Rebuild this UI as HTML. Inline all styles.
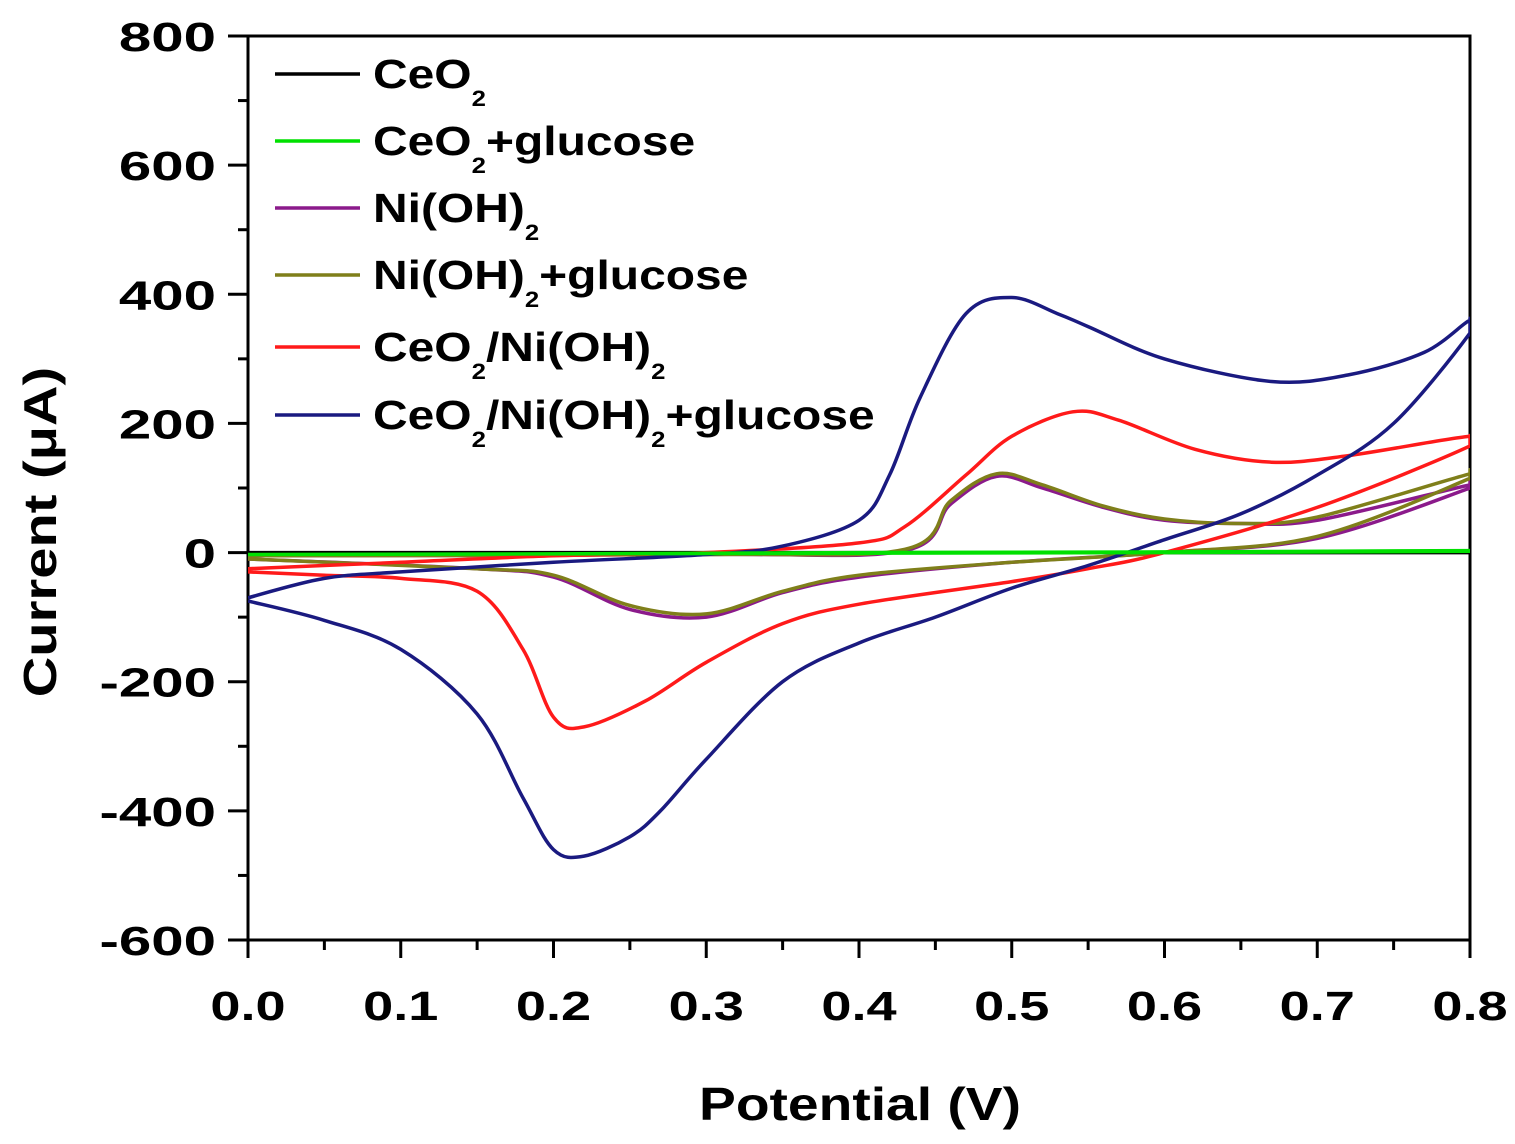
<!DOCTYPE html>
<html><head><meta charset="utf-8"><style>
html,body{margin:0;padding:0;background:#fff;}
svg{display:block;font-family:"Liberation Sans",Arial,sans-serif;font-weight:bold;}
</style></head><body>
<svg id="chart" width="1515" height="1144" viewBox="0 0 1515 1144">
<defs><clipPath id="plotclip"><rect x="248" y="36" width="1222" height="904"/></clipPath></defs>
<g id="axes"></g>
<g id="series" clip-path="url(#plotclip)"></g>
<g id="legend"></g>
<text transform="translate(860,1120) scale(1.2,1)" font-size="46" text-anchor="middle">Potential (V)</text>
<text transform="translate(56,532) rotate(-90) scale(1.22,1)" font-size="46" text-anchor="middle">Current (μA)</text>
</svg>
<script>
const xTicks=[0,0.1,0.2,0.3,0.4,0.5,0.6,0.7,0.8];
const yTicks=[-600,-400,-200,0,200,400,600,800];
const seriesNames=["CeO2","CeO2+glucose","Ni(OH)2","Ni(OH)2+glucose","CeO2/Ni(OH)2","CeO2/Ni(OH)2+glucose"];
const seriesColors=["#000000","#00e000","#8b1a8b","#7f7f1a","#ff1a1a","#1a1a80"];
const blueX=[0,0.05,0.1,0.2,0.3,0.35,0.4,0.42,0.44,0.47,0.5,0.53,0.55,0.6,0.67,0.72,0.77,0.8,0.8,0.75,0.7,0.65,0.6,0.55,0.5,0.45,0.4,0.35,0.3,0.27,0.25,0.22,0.2,0.18,0.15,0.1,0.05,0];
const blueY=[-70,-40,-30,-15,-3,10,50,120,240,370,395,370,350,300,265,275,310,360,340,200,120,60,20,-20,-55,-100,-140,-200,-320,-400,-440,-470,-460,-380,-250,-150,-105,-75];
const redX=[0,0.1,0.2,0.3,0.4,0.43,0.47,0.5,0.54,0.57,0.62,0.67,0.72,0.8,0.8,0.7,0.6,0.55,0.5,0.4,0.35,0.3,0.26,0.22,0.2,0.18,0.15,0.1,0.05,0];
const redY=[-25,-15,-5,0,15,40,120,180,218,205,160,140,150,180,165,70,0,-25,-45,-80,-110,-170,-230,-270,-255,-150,-60,-40,-35,-30];
const oliveX=[0,0.3,0.43,0.46,0.49,0.52,0.56,0.6,0.65,0.7,0.8,0.8,0.7,0.6,0.5,0.4,0.35,0.3,0.25,0.2,0.15,0];
const oliveY=[-5,-3,5,80,122,105,72,52,45,55,122,115,25,0,-15,-35,-60,-95,-82,-35,-25,-10];
const purpleX=[0,0.3,0.43,0.46,0.49,0.52,0.56,0.6,0.65,0.7,0.8,0.8,0.7,0.6,0.5,0.4,0.35,0.3,0.25,0.2,0.15,0];
const purpleY=[-5,-3,3,75,118,100,70,50,45,50,105,100,22,0,-15,-38,-62,-100,-88,-38,-25,-10];
const greenX=[0,0.2,0.4,0.6,0.8,0.8,0.6,0.4,0.2,0];
const greenY=[-3,-2,0,1,3,2,0,-1,-2,-3];
const blackX=[0,0.8];
const blackY=[0,0];
const L=248,R=1470,T=36,B=940;
const sx=v=>L+(v-0)/0.8*(R-L);
const sy=v=>B-(v+600)/1400*(B-T);
const NS="http://www.w3.org/2000/svg";
function mk(tag,attrs,parent){const e=document.createElementNS(NS,tag);for(const k in attrs)e.setAttribute(k,attrs[k]);parent.appendChild(e);return e;}
const ax=document.getElementById('axes');
let fr=mk('rect',{x:L,y:T,width:R-L,height:B-T,fill:'none',stroke:'#000','stroke-width':3},ax);


yTicks.forEach(v=>{
 let t=mk('line',{x1:L-20,x2:L,y1:sy(v),y2:sy(v),stroke:'#000','stroke-width':3},ax);
 
 
 let tx=mk('text',{transform:`translate(${L-32},${sy(v)+15}) scale(1.42,1)`,'font-size':41,'text-anchor':'end'},ax);tx.textContent=v;
 
 
 if(v<800){let m=mk('line',{x1:L-10,x2:L,y1:sy(v+100),y2:sy(v+100),stroke:'#000','stroke-width':3},ax);
 
 }
});
xTicks.forEach(v=>{
 let t=mk('line',{x1:sx(v),x2:sx(v),y1:B,y2:B+18,stroke:'#000','stroke-width':3},ax);
 
 
 let tx=mk('text',{transform:`translate(${sx(v)},${B+80}) scale(1.32,1)`,'font-size':41,'text-anchor':'middle'},ax);tx.textContent=v.toFixed(1);
 
 
 if(v<0.8){let m=mk('line',{x1:sx(v+0.05),x2:sx(v+0.05),y1:B,y2:B+10,stroke:'#000','stroke-width':3},ax);
 
 }
});
const sg=document.getElementById('series');
function curve(xs,ys,col,name){
 const P=xs.map((x,i)=>[sx(x),sy(ys[i])]);
 let d='M'+P[0][0].toFixed(1)+','+P[0][1].toFixed(1);
 for(let i=0;i<P.length-1;i++){
  const p0=P[Math.max(0,i-1)],p1=P[i],p2=P[i+1],p3=P[Math.min(P.length-1,i+2)];
  let c1=[p1[0]+(p2[0]-p0[0])/6,p1[1]+(p2[1]-p0[1])/6];
  let c2=[p2[0]-(p3[0]-p1[0])/6,p2[1]-(p3[1]-p1[1])/6];
  c1[0]=Math.min(R,Math.max(L,c1[0]));c2[0]=Math.min(R,Math.max(L,c2[0]));
  d+=` C${c1[0].toFixed(1)},${c1[1].toFixed(1)} ${c2[0].toFixed(1)},${c2[1].toFixed(1)} ${p2[0].toFixed(1)},${p2[1].toFixed(1)}`;
 }
 let p=mk('path',{d:d,fill:'none',stroke:col,'stroke-width':3.5,'stroke-linejoin':'round'},sg);
 
 
}
curve(blackX,blackY,seriesColors[0],'ceo2-line');
curve(purpleX,purpleY,seriesColors[2],'nioh2-line');
curve(oliveX,oliveY,seriesColors[3],'nioh2-glucose-line');
curve(redX,redY,seriesColors[4],'ceo2-nioh2-line');
curve(blueX,blueY,seriesColors[5],'ceo2-nioh2-glucose-line');
curve(greenX,greenY,seriesColors[1],'ceo2-glucose-line');
const lg=document.getElementById('legend');
const rowsY=[74,141,208,275,347,415];
const labels=[
 ['CeO','2',''],['CeO','2','+glucose'],['Ni(OH)','2',''],['Ni(OH)','2','+glucose'],['CeO','2','/Ni(OH)','2'],['CeO','2','/Ni(OH)','2','+glucose']];
labels.forEach((parts,i)=>{
 let y=rowsY[i];
 let l=mk('line',{x1:275,x2:360,y1:y,y2:y,stroke:seriesColors[i],'stroke-width':3.5},lg);
 
 
 let t=mk('text',{transform:`translate(373,${y+14}) scale(1.17,1)`,'font-size':41},lg);
 
 
 parts.forEach((s,j)=>{if(!s)return;let ts=mk('tspan',j%2?{'font-size':22,dy:18}:{'font-size':41,dy:j?-18:0},t);ts.textContent=s;});
});
</script>
</body></html>
